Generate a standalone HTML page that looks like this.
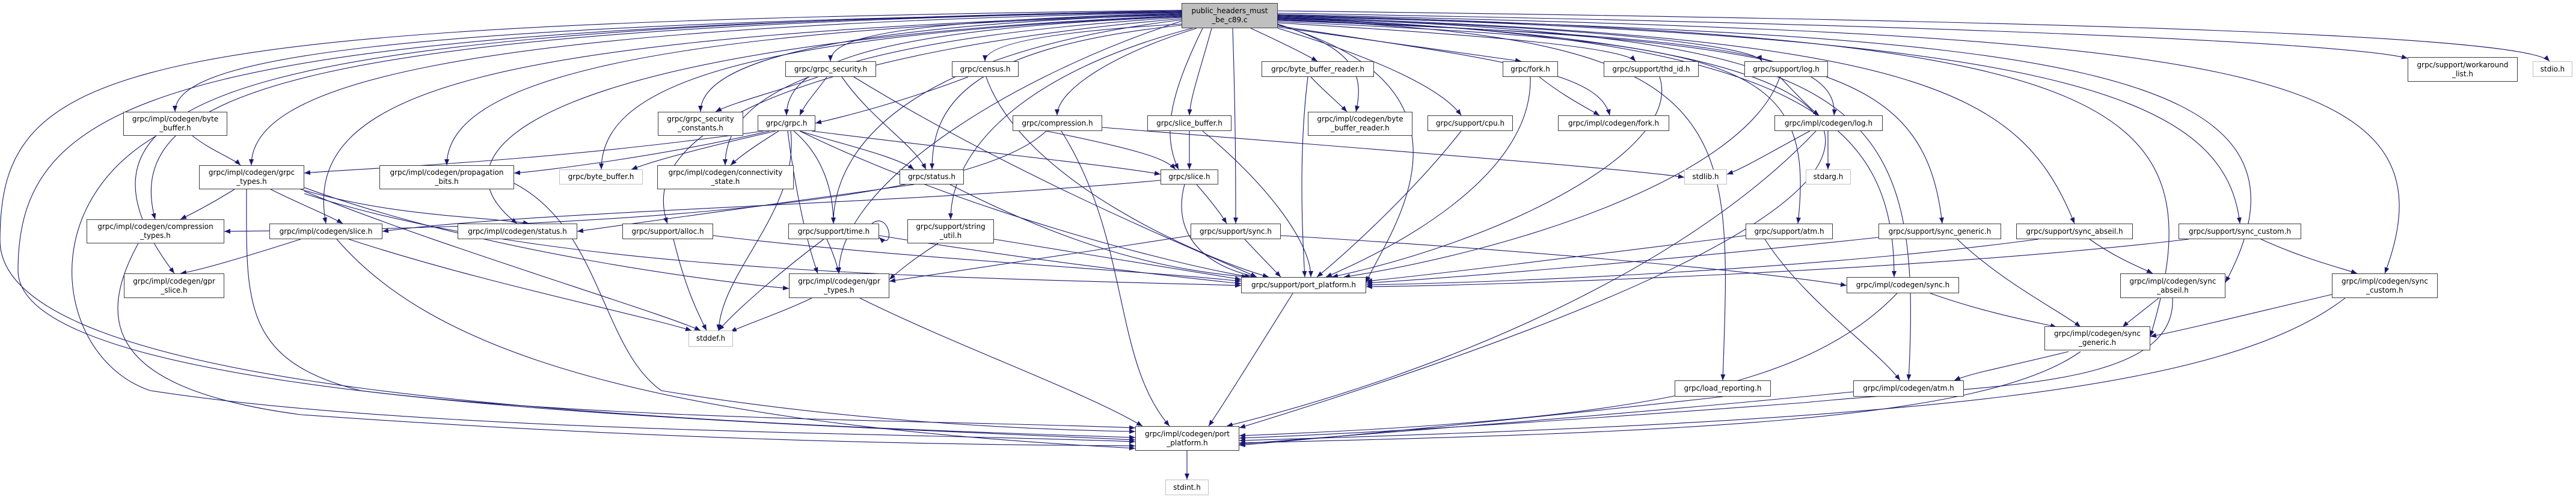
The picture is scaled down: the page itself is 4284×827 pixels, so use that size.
<!DOCTYPE html>
<html><head><meta charset="utf-8">
<style>
html,body{margin:0;padding:0;background:#fff;}
#c{position:relative;width:4284px;height:827px;overflow:hidden;background:#fff;}
svg{position:absolute;left:0;top:0;}
.n{position:absolute;box-sizing:border-box;border:1.5px solid #3c3c3c;background:#fff;display:flex;align-items:center;justify-content:center;text-align:center;font-family:"DejaVu Sans","Liberation Sans",sans-serif;font-size:12px;line-height:15px;color:#000;white-space:nowrap;}
.g{border-color:#bfbfbf;}
.r{background:#bfbfbf;border-color:#404040;}
</style></head><body><div id="c">
<svg width="4284" height="827" viewBox="0 0 4284 827">
<defs><marker id="a" markerWidth="10" markerHeight="8" refX="10" refY="4" orient="auto" markerUnits="userSpaceOnUse"><path d="M0,0L10,4L0,8z" fill="#191970"/></marker></defs>
<g fill="none" stroke="#191970" stroke-width="1.1" marker-end="url(#a)">
<path d="M1965,22 C1500,35 1381,60 1381,102"/>
<path d="M1965,40 C1700,55 1638,80 1638,102"/>
<path d="M1965,20 C600,40 291,100 291,186"/>
<path d="M1965,24 C1300,45 1165,120 1165,186"/>
<path d="M1965,28 C1400,50 1308,120 1308,192"/>
<path d="M1990,47 C1850,90 1758,150 1758,192"/>
<path d="M1965,21 C700,45 418,150 418,275"/>
<path d="M1965,25 C1000,50 743,150 743,275"/>
<path d="M1965,27 C1200,60 1000,150 1000,282"/>
<path d="M1965,29 C1300,70 1206,180 1206,275"/>
<path d="M1965,42 C1600,80 1550,180 1550,282"/>
<path d="M1965,19 C500,45 200,150 258,365"/>
<path d="M1965,23 C800,60 500,150 542,372"/>
<path d="M1965,26 C900,70 700,250 860,372"/>
<path d="M1965,31 C1400,80 1050,200 1110,372"/>
<path d="M1965,33 C1500,90 1386,250 1386,372"/>
<path d="M1990,45 C1700,120 1581,250 1581,365"/>
<path d="M1965,18 C400,45 60,150 290,455"/>
<path d="M1965,35 C1700,120 1395,300 1395,455"/>
<path d="M1965,17 C200,40 0,100 0,400 C0,650 1000,700 1888,728"/>
<path d="M1965,20 C300,45 30,150 30,450 C30,670 1200,700 1888,732"/>
<path d="M2015,47 C1995,120 1980,160 1978,192"/>
<path d="M2000,47 C1950,150 1930,220 1960,282"/>
<path d="M2050,47 C2055,200 2055,300 2055,372"/>
<path d="M2080,47 C2130,70 2170,90 2191,102"/>
<path d="M2125,40 C2250,80 2270,120 2255,186"/>
<path d="M2125,45 C2300,70 2450,90 2530,102"/>
<path d="M2125,38 C2500,60 2700,80 2720,102"/>
<path d="M2125,30 C2700,45 2920,80 2930,102"/>
<path d="M2125,22 C3200,40 3900,70 4004,97"/>
<path d="M2125,18 C3500,35 4200,60 4240,102"/>
<path d="M2125,47 C2300,100 2400,150 2430,192"/>
<path d="M2125,43 C2500,100 2660,120 2677,192"/>
<path d="M2125,34 C2800,60 3060,80 3050,192"/>
<path d="M2125,36 C2900,70 3020,100 2990,372"/>
<path d="M2125,32 C3000,70 3200,100 3230,372"/>
<path d="M2125,28 C3200,60 3360,150 3450,372"/>
<path d="M2125,26 C3400,60 3700,150 3725,372"/>
<path d="M2125,30 C3000,60 3150,200 3150,461"/>
<path d="M2125,27 C3400,60 3900,100 3701,470"/>
<path d="M2125,24 C3700,60 4100,100 3966,455"/>
<path d="M2125,25 C3500,60 3700,150 3576,560"/>
<path d="M2125,29 C3100,60 3200,150 3174,633"/>
<path d="M2125,33 C2900,60 2880,200 2865,633"/>
<path d="M2125,41 C2500,150 2300,400 2272,470"/>
<path d="M2125,31 C3300,70 3400,300 2061,712"/>
<path d="M1360,128 C1300,150 1220,170 1190,186"/>
<path d="M1375,128 C1360,150 1340,170 1330,192"/>
<path d="M1400,128 C1450,200 1520,240 1540,282"/>
<path d="M1420,128 C1700,300 2000,420 2090,461"/>
<path d="M1610,128 C1500,170 1400,195 1356,205"/>
<path d="M1640,128 C1700,300 2000,430 2110,461"/>
<path d="M1270,218 C900,270 600,280 506,288"/>
<path d="M1280,218 C1100,260 900,285 855,288"/>
<path d="M1290,218 C1150,250 1080,270 1050,282"/>
<path d="M1295,218 C1260,240 1230,260 1215,275"/>
<path d="M1330,218 C1400,240 1490,260 1520,282"/>
<path d="M1350,218 C1600,250 1850,275 1930,290"/>
<path d="M1320,218 C1370,260 1386,320 1386,372"/>
<path d="M1310,218 C1320,300 1340,400 1360,455"/>
<path d="M1315,218 C1330,350 1200,450 1195,550"/>
<path d="M1330,218 C1600,350 1950,440 2080,461"/>
<path d="M320,226 C350,250 390,265 400,275"/>
<path d="M260,226 C50,350 100,600 250,650 C700,720 1500,720 1888,735"/>
<path d="M390,315 C350,340 320,355 300,365"/>
<path d="M450,315 C500,340 550,360 570,372"/>
<path d="M500,315 C650,360 800,360 880,372"/>
<path d="M506,312 C800,420 1200,470 1312,480"/>
<path d="M506,318 C700,400 1100,520 1165,550"/>
<path d="M410,315 C410,500 400,600 600,650 C1000,700 1600,700 1888,712"/>
<path d="M506,322 C900,450 1500,460 2064,475"/>
<path d="M230,405 C150,550 200,650 500,690 C1200,740 1700,740 1888,742"/>
<path d="M500,398 C400,430 330,450 300,455"/>
<path d="M580,398 C800,470 1050,520 1150,550"/>
<path d="M560,398 C700,560 1000,700 1888,746"/>
<path d="M855,305 C1000,380 1000,580 1100,650 C1400,700 1700,715 1888,718"/>
<path d="M1120,398 C1140,480 1160,520 1175,550"/>
<path d="M1186,392 C1500,430 1900,450 2064,468"/>
<path d="M1375,398 C1385,420 1392,440 1395,455"/>
<path d="M1370,398 C1300,450 1220,520 1195,550"/>
<path d="M1462,392 C1700,430 1900,455 2064,472"/>
<path d="M1450,372 C1480,350 1490,420 1462,395"/>
<path d="M1350,496 C1300,520 1240,540 1215,552"/>
<path d="M1430,496 C1600,580 1800,650 1900,709"/>
<path d="M1740,218 C1900,250 1940,265 1955,282"/>
<path d="M1740,218 C1600,350 900,380 373,385"/>
<path d="M1833,212 C2300,250 2700,280 2801,295"/>
<path d="M1765,218 C1880,400 1850,600 1945,709"/>
<path d="M1978,218 L1978,282"/>
<path d="M2000,218 C2100,300 2180,400 2180,461"/>
<path d="M1990,307 C2010,330 2030,355 2040,372"/>
<path d="M1970,307 C1950,380 1990,440 2090,461"/>
<path d="M1930,300 C1500,340 900,350 636,385"/>
<path d="M1520,307 C1200,350 1000,380 960,385"/>
<path d="M1580,307 C1800,420 1950,450 2075,461"/>
<path d="M1560,405 C1520,430 1490,455 1479,465"/>
<path d="M1653,398 C1850,430 2000,455 2064,465"/>
<path d="M1980,392 C1800,420 1600,450 1479,468"/>
<path d="M2070,398 C2090,420 2115,445 2130,461"/>
<path d="M2130,392 C2600,420 2950,455 3071,475"/>
<path d="M2180,128 C2200,150 2225,170 2240,186"/>
<path d="M2175,128 C2160,250 2165,380 2170,461"/>
<path d="M2430,218 C2350,320 2240,420 2190,461"/>
<path d="M2560,128 C2600,160 2640,180 2660,192"/>
<path d="M2545,128 C2550,300 2300,420 2205,461"/>
<path d="M2760,128 C2800,250 2500,400 2215,461"/>
<path d="M2960,128 C2990,160 3010,180 3025,192"/>
<path d="M2960,128 C2900,300 2500,420 2235,461"/>
<path d="M3010,218 C2950,250 2900,280 2872,290"/>
<path d="M3040,218 L3040,282"/>
<path d="M3020,218 C2800,450 2400,620 2040,709"/>
<path d="M2935,398 C3000,500 3120,580 3160,633"/>
<path d="M2903,392 C2600,430 2400,455 2272,468"/>
<path d="M3255,398 C3330,470 3430,520 3460,544"/>
<path d="M3124,395 C2800,430 2450,460 2272,471"/>
<path d="M3475,398 C3520,430 3560,445 3580,455"/>
<path d="M3390,398 C3000,450 2500,470 2272,474"/>
<path d="M3760,398 C3830,430 3890,445 3920,455"/>
<path d="M3640,398 C3200,450 2500,475 2272,477"/>
<path d="M3210,488 C3300,520 3380,535 3420,544"/>
<path d="M3155,488 C3000,650 2700,700 2061,725"/>
<path d="M3590,496 C3560,520 3540,535 3530,544"/>
<path d="M3613,496 C3620,650 3300,640 3000,670 C2600,700 2300,720 2061,729"/>
<path d="M3878,490 C3750,520 3650,545 3576,560"/>
<path d="M3900,496 C3700,650 3200,700 2061,733"/>
<path d="M3440,585 C3340,610 3280,620 3250,633"/>
<path d="M3460,585 C3300,700 2800,720 2061,737"/>
<path d="M3082,652 C2700,690 2300,720 2061,739"/>
<path d="M2865,660 C2600,690 2300,720 2061,741"/>
<path d="M2150,488 C2080,600 2030,680 2010,709"/>
<path d="M1974,750 L1974,798"/>
</g>
</svg>
<div class="n r" style="left:1965px;top:5px;width:160px;height:42px">public_headers_must<br>_be_c89.c</div>
<div class="n" style="left:1306px;top:102px;width:151px;height:26px">grpc/grpc_security.h</div>
<div class="n" style="left:1583px;top:102px;width:111px;height:26px">grpc/census.h</div>
<div class="n" style="left:2098px;top:102px;width:187px;height:26px">grpc/byte_buffer_reader.h</div>
<div class="n" style="left:2499px;top:102px;width:92px;height:26px">grpc/fork.h</div>
<div class="n" style="left:2667px;top:102px;width:158px;height:26px">grpc/support/thd_id.h</div>
<div class="n" style="left:2901px;top:102px;width:139px;height:26px">grpc/support/log.h</div>
<div class="n" style="left:4004px;top:95px;width:183px;height:41px">grpc/support/workaround<br>_list.h</div>
<div class="n g" style="left:4212px;top:102px;width:66px;height:26px">stdio.h</div>
<div class="n" style="left:205px;top:186px;width:173px;height:40px">grpc/impl/codegen/byte<br>_buffer.h</div>
<div class="n" style="left:1094px;top:186px;width:142px;height:40px">grpc/grpc_security<br>_constants.h</div>
<div class="n" style="left:1260px;top:192px;width:96px;height:26px">grpc/grpc.h</div>
<div class="n" style="left:1684px;top:192px;width:149px;height:26px">grpc/compression.h</div>
<div class="n" style="left:1908px;top:192px;width:140px;height:26px">grpc/slice_buffer.h</div>
<div class="n" style="left:2175px;top:186px;width:174px;height:40px">grpc/impl/codegen/byte<br>_buffer_reader.h</div>
<div class="n" style="left:2374px;top:192px;width:142px;height:26px">grpc/support/cpu.h</div>
<div class="n" style="left:2591px;top:192px;width:185px;height:26px">grpc/impl/codegen/fork.h</div>
<div class="n" style="left:2951px;top:192px;width:180px;height:26px">grpc/impl/codegen/log.h</div>
<div class="n" style="left:331px;top:275px;width:175px;height:40px">grpc/impl/codegen/grpc<br>_types.h</div>
<div class="n" style="left:631px;top:275px;width:224px;height:40px">grpc/impl/codegen/propagation<br>_bits.h</div>
<div class="n g" style="left:930px;top:282px;width:139px;height:25px">grpc/byte_buffer.h</div>
<div class="n" style="left:1093px;top:275px;width:227px;height:40px">grpc/impl/codegen/connectivity<br>_state.h</div>
<div class="n" style="left:1496px;top:282px;width:107px;height:25px">grpc/status.h</div>
<div class="n" style="left:1930px;top:282px;width:96px;height:25px">grpc/slice.h</div>
<div class="n g" style="left:2801px;top:282px;width:71px;height:25px">stdlib.h</div>
<div class="n g" style="left:3003px;top:282px;width:75px;height:25px">stdarg.h</div>
<div class="n" style="left:144px;top:365px;width:229px;height:40px">grpc/impl/codegen/compression<br>_types.h</div>
<div class="n" style="left:448px;top:372px;width:188px;height:26px">grpc/impl/codegen/slice.h</div>
<div class="n" style="left:761px;top:372px;width:199px;height:26px">grpc/impl/codegen/status.h</div>
<div class="n" style="left:1035px;top:372px;width:151px;height:26px">grpc/support/alloc.h</div>
<div class="n" style="left:1311px;top:372px;width:151px;height:26px">grpc/support/time.h</div>
<div class="n" style="left:1509px;top:365px;width:144px;height:40px">grpc/support/string<br>_util.h</div>
<div class="n" style="left:1980px;top:372px;width:150px;height:26px">grpc/support/sync.h</div>
<div class="n" style="left:2903px;top:372px;width:145px;height:26px">grpc/support/atm.h</div>
<div class="n" style="left:3124px;top:372px;width:204px;height:26px">grpc/support/sync_generic.h</div>
<div class="n" style="left:3353px;top:372px;width:194px;height:26px">grpc/support/sync_abseil.h</div>
<div class="n" style="left:3623px;top:372px;width:204px;height:26px">grpc/support/sync_custom.h</div>
<div class="n" style="left:206px;top:455px;width:167px;height:41px">grpc/impl/codegen/gpr<br>_slice.h</div>
<div class="n" style="left:1312px;top:455px;width:167px;height:41px">grpc/impl/codegen/gpr<br>_types.h</div>
<div class="n" style="left:2064px;top:461px;width:208px;height:27px">grpc/support/port_platform.h</div>
<div class="n" style="left:3071px;top:461px;width:187px;height:27px">grpc/impl/codegen/sync.h</div>
<div class="n" style="left:3526px;top:455px;width:175px;height:41px">grpc/impl/codegen/sync<br>_abseil.h</div>
<div class="n" style="left:3878px;top:455px;width:176px;height:41px">grpc/impl/codegen/sync<br>_custom.h</div>
<div class="n g" style="left:1145px;top:550px;width:74px;height:27px">stddef.h</div>
<div class="n" style="left:3400px;top:543px;width:176px;height:40px">grpc/impl/codegen/sync<br>_generic.h</div>
<div class="n" style="left:2785px;top:633px;width:160px;height:27px">grpc/load_reporting.h</div>
<div class="n" style="left:3082px;top:633px;width:184px;height:27px">grpc/impl/codegen/atm.h</div>
<div class="n" style="left:1888px;top:709px;width:173px;height:41px">grpc/impl/codegen/port<br>_platform.h</div>
<div class="n g" style="left:1938px;top:798px;width:72px;height:26px">stdint.h</div>
</div></body></html>
